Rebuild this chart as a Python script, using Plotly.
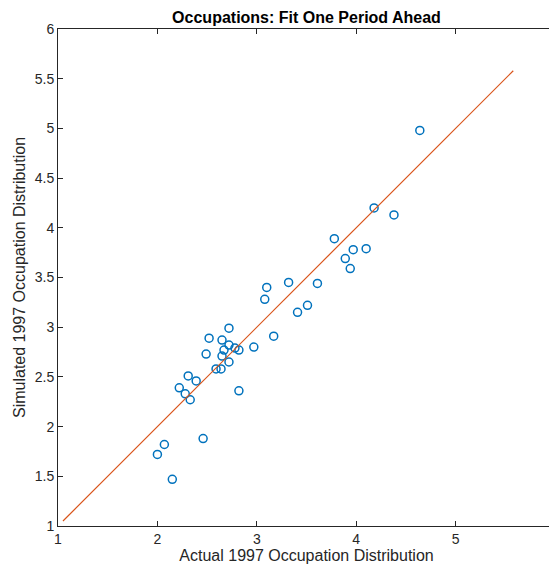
import plotly.graph_objects as go

actual = [4.64, 4.18, 4.38, 3.78, 3.97, 4.10, 3.89, 3.94, 3.32, 3.61, 3.10, 3.08, 3.51, 3.41,
          3.17, 2.97, 2.72, 2.52, 2.65, 2.72, 2.67, 2.78, 2.82, 2.49, 2.65, 2.72, 2.59, 2.64,
          2.31, 2.39, 2.22, 2.28, 2.33, 2.82, 2.46, 2.07, 2.00, 2.15]
simulated = [4.98, 4.20, 4.13, 3.89, 3.78, 3.79, 3.69, 3.59, 3.45, 3.44, 3.40, 3.28, 3.22, 3.15,
             2.91, 2.80, 2.99, 2.89, 2.87, 2.82, 2.77, 2.79, 2.77, 2.73, 2.71, 2.65, 2.58, 2.58,
             2.51, 2.46, 2.39, 2.33, 2.27, 2.36, 1.88, 1.82, 1.72, 1.47]
diag_line = [1.05, 5.58]
ticks = [1, 2, 3, 4, 5, 6]
yticks = [1, 1.5, 2, 2.5, 3, 3.5, 4, 4.5, 5, 5.5, 6]

FONT = "Liberation Sans, Arial, Helvetica"

fig = go.Figure()
fig.add_trace(go.Scatter(x=actual, y=simulated, mode="markers",
                         marker=dict(symbol="circle-open", size=8, color="#0072BD",
                                     line=dict(width=1.5, color="#0072BD")),
                         showlegend=False, cliponaxis=False))
fig.add_trace(go.Scatter(x=diag_line, y=diag_line, mode="lines",
                         line=dict(color="#D95319", width=1.2), showlegend=False))

axis_common = dict(range=[1, 6], showgrid=False, zeroline=False, showline=True,
                   linecolor="#262626", linewidth=1, mirror="ticks", ticks="inside",
                   ticklen=5, tickcolor="#262626", automargin=False,
                   ticklabeloverflow="allow",
                   tickfont=dict(family=FONT, size=14, color="#262626"))
fig.update_xaxes(**axis_common, tickvals=ticks, ticktext=[str(t) for t in ticks],
                 title=dict(text="Actual 1997 Occupation Distribution", standoff=0,
                            font=dict(family=FONT, size=16, color="#262626")))
fig.update_yaxes(**axis_common, tickvals=yticks, ticktext=[f"{t:g}" for t in yticks],
                 title=dict(text="Simulated 1997 Occupation Distribution", standoff=5,
                            font=dict(family=FONT, size=16, color="#262626")))
fig.update_layout(
    width=549, height=557,
    margin=dict(l=50, r=2, t=21, b=39),
    paper_bgcolor="white", plot_bgcolor="white",
    title=dict(text="<b>Occupations: Fit One Period Ahead</b>", xref="paper", x=0.5,
               xanchor="center", yref="container", y=0.984, yanchor="middle",
               font=dict(family=FONT, size=16, color="black")),
)
fig.write_html("out.html")
